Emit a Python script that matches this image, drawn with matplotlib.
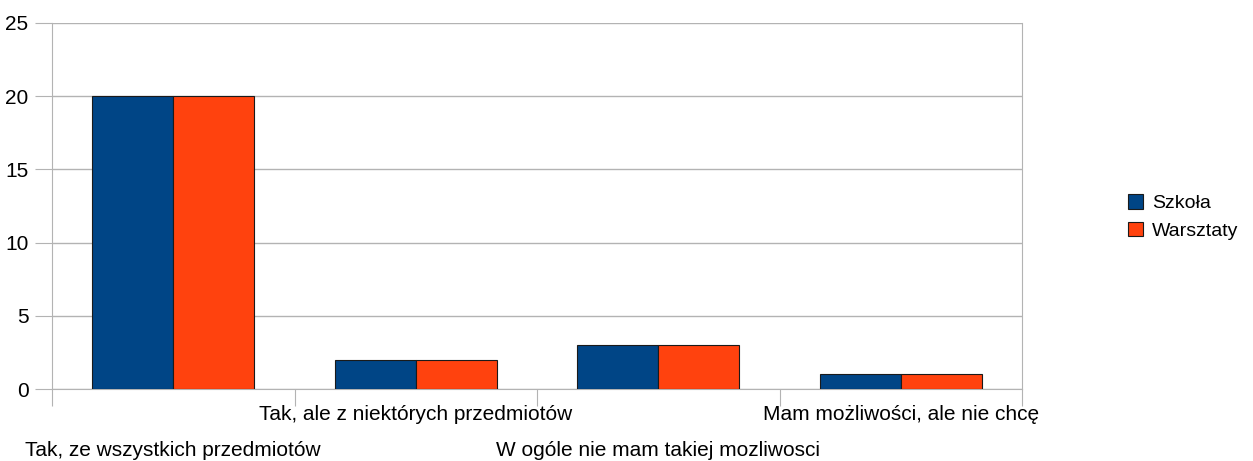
import matplotlib.pyplot as plt
import numpy as np

plt.rcParams['font.family'] = ['Liberation Sans', 'DejaVu Sans']

# odpowiedzi i liczba osób
kategorie = ["Tak, ze wszystkich przedmiotów",
             "Tak, ale z niektórych przedmiotów",
             "W ogóle nie mam takiej mozliwosci",
             "Mam możliwości, ale nie chcę"]
szkola = [20, 2, 3, 1]
warsztaty = [20, 2, 3, 1]
y_ticks = [0, 5, 10, 15, 20, 25]

W, H = 1253, 461
fig = plt.figure(figsize=(W / 100, H / 100), dpi=100)
ax = fig.add_axes([52 / W, 1 - 389 / H, (1022 - 52) / W, (389 - 23) / H])

x = np.arange(len(kategorie))
szer = 0.333
ax.bar(x - szer / 2, szkola, szer, color='#004586', edgecolor='#1a1a1a', linewidth=0.8, label='Szkoła', zorder=3)
ax.bar(x + szer / 2, warsztaty, szer, color='#ff420e', edgecolor='#1a1a1a', linewidth=0.8, label='Warsztaty', zorder=3)

ax.set_xlim(-0.5, len(kategorie) - 0.5)
ax.set_ylim(0, 25)
ax.set_yticks(y_ticks)
ax.tick_params(axis='y', length=12, color='#b3b3b3', labelsize=15, pad=5)
ax.yaxis.grid(True, color='#b3b3b3', linewidth=1, zorder=0)

# kreski między kategoriami
ax.set_xticks(np.arange(-0.5, len(kategorie)))
ax.set_xticklabels([])
ax.tick_params(axis='x', length=12, color='#b3b3b3')

for s in ['left', 'right', 'bottom']:
    ax.spines[s].set_color('#b3b3b3')
ax.spines['top'].set_visible(False)

# etykiety kategorii na przemian w dwóch rzędach
for i, k in enumerate(kategorie):
    off = -44 if i % 2 == 0 else -18
    ax.annotate(k, xy=(i, 0), xycoords=('data', 'axes fraction'),
                xytext=(0, off), textcoords='offset points',
                ha='center', va='center', fontsize=15)

fig.legend(loc='center left', bbox_to_anchor=(1110 / W, 1 - 217 / H),
           frameon=False, fontsize=14, handlelength=0.78, handleheight=0.78,
           handletextpad=0.5, labelspacing=0.5)

fig.savefig('out.png', dpi=100)
